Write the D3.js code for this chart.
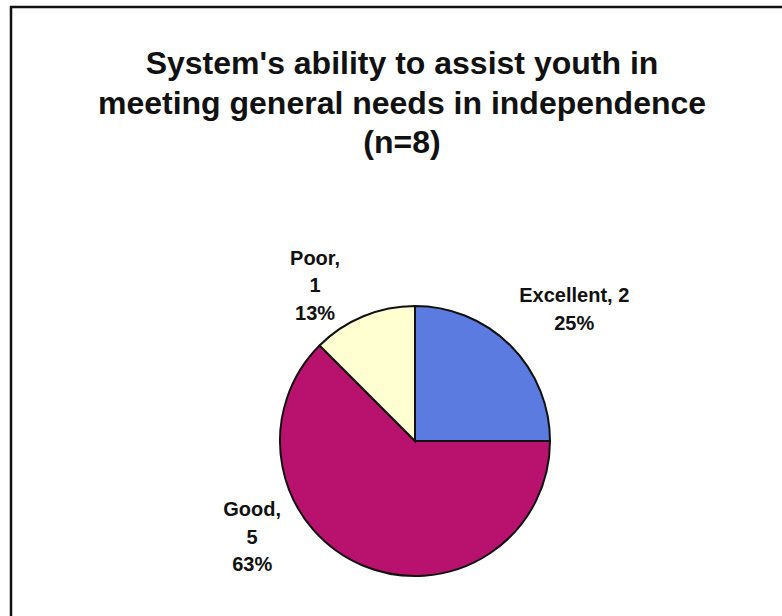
<!DOCTYPE html>
<html>
<head>
<meta charset="utf-8">
<script src="https://cdn.jsdelivr.net/npm/d3@7/dist/d3.min.js"></script>
<style>
  html, body { margin: 0; padding: 0; background: #ffffff; }
  svg { display: block; }
  text { font-family: "Liberation Sans", Arial, Helvetica, sans-serif; font-weight: bold; fill: #111; }
</style>
</head>
<body>
<svg id="chart" width="782" height="616"></svg>
<script>
// Survey ratings of the system (n = 8)
const categories = ["Excellent", "Good", "Poor"];
const counts = [2, 5, 1];
const percentLabels = ["25%", "63%", "13%"];
const titleLines = [
  "System's ability to assist youth in",
  "meeting general needs in independence",
  "(n=8)"
];
const sliceColors = ["#5b7be0", "#b8126e", "#ffffd2"];

const width = 782, height = 616;
const svg = d3.select("#chart");

// Frame around the chart area (runs off the right and bottom edges)
svg.append("rect")
  .attr("x", 11).attr("y", 7)
  .attr("width", 800).attr("height", 640)
  .attr("fill", "none")
  .attr("stroke", "#111")
  .attr("stroke-width", 2.5);

// Title
svg.append("g").selectAll("text")
  .data(titleLines)
  .join("text")
  .attr("x", 402)
  .attr("y", (d, i) => 74 + i * 39.5)
  .attr("text-anchor", "middle")
  .attr("font-size", 32)
  .text(d => d);

// Pie
const cx = 415, cy = 441, radius = 135;
const data = categories.map((c, i) => ({ name: c, value: counts[i], pct: percentLabels[i], color: sliceColors[i] }));

const pie = d3.pie().value(d => d.value).sort(null);
const arcs = pie(data);
const arc = d3.arc().innerRadius(0).outerRadius(radius);

const g = svg.append("g").attr("transform", `translate(${cx},${cy})`);
g.selectAll("path")
  .data(arcs)
  .join("path")
  .attr("d", arc)
  .attr("fill", d => d.data.color)
  .attr("stroke", "#111")
  .attr("stroke-width", 2);

// Labels: placed outside each slice, rotated/pushed a little to clear neighbours
const labelPlacement = {
  Excellent: { nudge: 5.3, r: 207 },
  Good: { nudge: 37, r: 189 },
  Poor: { nudge: -10.2, r: 185 }
};
const labelLines = d => {
  if (d.data.name === "Excellent") return [`${d.data.name}, ${d.data.value}`, d.data.pct];
  return [`${d.data.name},`, `${d.data.value}`, d.data.pct];
};
const lineGap = 27.5;

arcs.forEach(d => {
  const p = labelPlacement[d.data.name];
  const mid = (d.startAngle + d.endAngle) / 2 + p.nudge * Math.PI / 180;
  const lx = Math.sin(mid) * p.r;
  const ly = -Math.cos(mid) * p.r;
  const lines = labelLines(d);
  const top = ly - (lines.length - 1) * lineGap / 2;
  const t = g.append("text")
    .attr("text-anchor", "middle")
    .attr("font-size", 20);
  lines.forEach((s, i) => {
    t.append("tspan")
      .attr("x", lx)
      .attr("y", top + i * lineGap + 7)
      .text(s);
  });
});
</script>
</body>
</html>
